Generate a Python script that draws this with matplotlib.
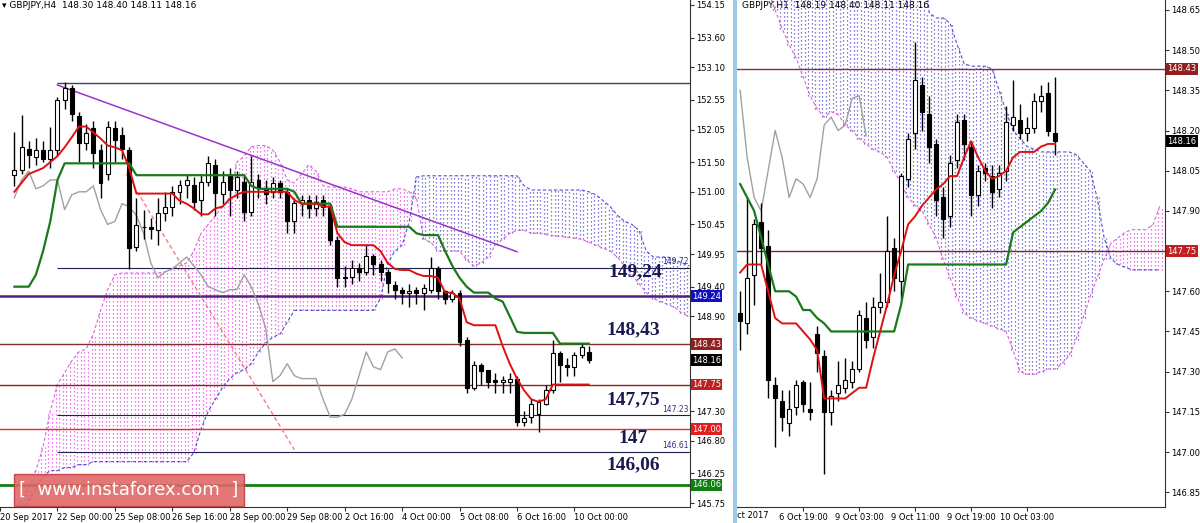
import matplotlib
matplotlib.use("Agg")
import matplotlib.pyplot as plt
from matplotlib.patches import Rectangle
import numpy as np

plt.rcParams['font.family'] = ['DejaVu Sans']

# ---------------- LEFT PANEL (H4) ----------------
h4_open = [151.28,151.37,151.73,151.59,151.70,151.55,151.70,152.55,152.75,152.27,151.82,152.07,151.70,151.30,152.07,151.96,151.70,150.07,150.41,150.40,
           150.36,150.64,150.75,151.00,151.11,151.11,150.86,151.17,151.45,150.97,151.28,151.03,151.17,150.66,151.20,151.06,151.00,151.14,151.00,150.50,
           150.81,150.86,150.72,150.86,150.75,150.19,149.54,149.57,149.71,149.65,149.91,149.79,149.65,149.43,149.34,149.29,149.34,149.29,149.34,149.71,
           149.32,149.20,149.29,148.50,147.69,148.08,147.99,147.83,147.80,147.80,147.85,147.12,147.21,147.26,147.43,147.66,148.28,148.08,148.05,148.25,148.30]
h4_close = [151.37,151.76,151.62,151.70,151.55,151.70,152.55,152.75,152.32,151.82,151.99,151.65,151.14,152.10,151.87,151.73,150.05,150.44,150.40,150.38,
            150.64,150.75,151.00,151.11,151.20,150.83,151.17,151.48,150.98,151.17,151.03,151.25,150.66,151.17,151.06,150.97,151.14,151.00,150.50,150.81,
            150.86,150.72,150.83,150.75,150.19,149.54,149.57,149.71,149.65,149.91,149.79,149.65,149.46,149.34,149.29,149.32,149.29,149.37,149.71,149.32,
            149.20,149.29,148.47,147.69,148.08,147.97,147.80,147.80,147.83,147.85,147.12,147.18,147.43,147.46,147.66,148.28,148.08,148.05,148.25,148.39,148.16]
h4_high = [152.0,152.3,151.85,151.9,151.85,152.1,152.6,152.85,152.8,152.35,152.15,152.2,151.8,152.2,152.2,152.1,151.75,150.9,150.7,150.55,
           150.9,151.0,151.1,151.2,151.3,151.25,151.3,151.6,151.55,151.35,151.4,151.35,151.3,151.6,151.3,151.2,151.25,151.2,151.05,150.9,
           150.95,150.95,150.95,150.95,150.8,150.25,149.75,149.85,149.8,150.1,149.95,149.85,149.7,149.5,149.4,149.45,149.4,149.45,149.9,149.75,
           149.35,149.35,149.35,148.55,148.15,148.12,148.0,147.95,147.9,147.95,147.9,147.3,147.5,147.5,147.75,148.5,148.32,148.2,148.3,148.45,148.40]
h4_low = [151.1,151.3,151.4,151.45,151.5,151.4,151.6,152.4,152.2,151.5,151.7,151.4,150.9,151.2,151.5,151.55,149.7,150.0,150.2,150.2,
          150.1,150.5,150.6,150.8,150.9,150.7,150.6,151.1,150.6,150.8,150.6,150.9,150.5,150.6,150.9,150.8,150.9,150.9,150.3,150.3,
          150.6,150.55,150.6,150.6,150.1,149.4,149.4,149.45,149.5,149.6,149.6,149.5,149.3,149.2,149.1,149.05,149.1,149.0,149.3,149.2,
          149.1,149.15,148.4,147.6,147.65,147.75,147.7,147.6,147.6,147.6,147.05,147.05,147.1,146.95,147.4,147.6,147.8,147.9,147.9,148.2,148.11]
h4_tenkan = [151.0,151.15,151.3,151.35,151.4,151.5,151.6,151.75,151.92,152.1,152.1,152.0,151.9,151.78,151.75,151.7,151.4,150.97,150.97,150.97,
             150.97,150.97,150.97,150.85,150.8,150.72,150.62,150.62,150.72,150.75,150.88,150.95,151.0,151.0,151.0,151.0,151.0,151.0,151.0,150.86,
             150.8,150.8,150.8,150.75,150.75,150.3,150.15,150.1,150.1,150.1,150.1,150.0,149.8,149.7,149.68,149.68,149.62,149.58,149.58,149.55,
             149.3,149.3,149.2,148.8,148.75,148.75,148.75,148.75,148.4,148.1,147.85,147.65,147.5,147.46,147.5,147.75,147.75,147.75,147.75,147.75,147.75]
h4_kijun = [149.4,149.4,149.4,149.6,150.0,150.5,151.2,151.48,151.48,151.48,151.48,151.48,151.48,151.48,151.48,151.48,151.48,151.28,151.28,151.28,
            151.28,151.28,151.28,151.28,151.28,151.28,151.28,151.28,151.28,151.28,151.28,151.28,151.28,151.1,151.05,151.05,151.05,151.05,151.05,151.0,
            150.8,150.8,150.8,150.8,150.8,150.41,150.41,150.41,150.41,150.41,150.41,150.41,150.41,150.41,150.41,150.41,150.3,150.27,150.27,150.27,
            150.0,149.75,149.55,149.4,149.3,149.3,149.3,149.2,149.15,148.9,148.64,148.62,148.62,148.62,148.62,148.62,148.44,148.44,148.44,148.44,148.44]
h4_chikou = [150.9,151.2,151.35,151.05,151.1,151.2,151.2,150.7,150.95,151.0,151.0,151.1,150.7,150.45,150.5,150.8,150.75,150.6,150.3,149.8,
             149.55,149.65,149.7,149.8,149.9,149.75,149.6,149.4,149.35,149.3,149.35,149.35,149.6,149.4,149.1,148.7,147.8,147.9,148.1,147.9,
             147.85,147.85,147.85,147.5,147.2,147.2,147.25,147.5,147.9,148.3,148.05,148.0,148.3,148.35,148.2]
h4_spanA = [145.6,145.8,146.0,146.3,146.7,147.3,147.75,147.95,148.15,148.3,148.35,148.6,149.0,149.35,149.6,149.63,149.63,149.63,149.63,149.63,
            149.63,149.65,149.7,149.75,149.8,150.0,150.3,150.45,150.6,150.75,150.9,151.5,151.6,151.76,151.78,151.78,151.7,151.5,151.2,151.15,
            151.3,151.45,151.35,151.1,151.08,151.08,151.08,151.05,151.0,151.0,151.0,151.0,151.0,151.05,151.05,151.0,150.9,150.2,150.15,150.0,
            150.0,150.0,150.0,149.85,149.75,149.8,149.9,150.1,150.2,150.3,150.35,150.35,150.3,150.3,150.28,150.26,150.25,150.23,150.22,150.2,
            150.15,150.1,150.05,150.0,149.9,149.75,149.6,149.45,149.3,149.2,149.15,149.1,149.05,148.95,148.9]
h4_spanB = [145.5,145.6,145.8,146.0,146.2,146.3,146.3,146.35,146.35,146.4,146.4,146.45,146.45,146.45,146.45,146.45,146.45,146.45,146.45,146.45,
            146.45,146.45,146.45,146.45,146.45,146.6,147.0,147.3,147.5,147.7,147.85,147.95,148.0,148.1,148.3,148.45,148.55,148.6,148.8,149.0,
            149.0,149.0,149.0,149.0,149.0,149.0,149.0,149.0,149.0,149.0,149.0,149.2,149.8,150.0,150.1,150.5,151.25,151.27,151.27,151.27,
            151.27,151.27,151.27,151.27,151.27,151.27,151.27,151.27,151.27,151.27,151.27,151.1,151.03,151.03,151.03,151.03,151.03,151.03,151.03,151.03,
            151.0,150.95,150.85,150.75,150.6,150.5,150.45,150.35,150.0,149.9,149.9,149.9,149.85,149.8,149.75]
h4_ticks = [-2,6,14,22,30,38,46,54,62,70,78]
h4_ticklabels = ['20 Sep 2017','22 Sep 00:00','25 Sep 08:00','26 Sep 16:00','28 Sep 00:00','29 Sep 08:00',
                 '2 Oct 16:00','4 Oct 00:00','5 Oct 08:00','6 Oct 16:00','10 Oct 00:00']
h4_yticks = [154.15,153.60,153.10,152.55,152.05,151.50,151.00,150.45,149.95,149.40,148.90,147.30,146.80,146.25,145.75]
trend_x = [6, 70]
trend_y = [152.80, 149.99]
dash_x = [15.6, 39]
dash_y = [151.3, 146.65]

# ---------------- RIGHT PANEL (H1) ----------------
h1_open = [147.52,147.48,147.66,147.86,147.77,147.25,147.19,147.11,147.17,147.26,147.16,147.44,147.36,147.15,147.22,147.24,147.26,147.31,147.50,147.43,
           147.54,147.56,147.76,147.64,148.02,148.19,148.37,148.26,148.15,147.95,147.88,148.09,148.24,148.14,147.96,148.06,148.03,147.98,148.05,148.22,
           148.24,148.19,148.21,148.31,148.34,148.19]
h1_close = [147.49,147.65,147.85,147.76,147.27,147.20,147.13,147.16,147.25,147.18,147.15,147.37,147.15,147.21,147.25,147.27,147.31,147.51,147.42,147.54,
            147.56,147.75,147.65,148.03,148.17,148.39,148.27,148.14,147.94,147.87,148.08,148.23,148.15,147.96,148.05,148.04,147.97,148.04,148.23,148.25,
            148.19,148.21,148.31,148.33,148.20,148.16]
h1_high = [147.60,147.95,147.87,147.93,147.83,147.28,147.23,147.23,147.27,147.27,147.26,147.47,147.38,147.23,147.34,147.35,147.34,147.53,147.56,147.58,
           147.67,147.88,147.80,148.04,148.19,148.53,148.40,148.33,148.17,147.99,148.11,148.26,148.26,148.16,148.07,148.08,148.07,148.07,148.29,148.39,
           148.30,148.25,148.34,148.37,148.38,148.40]
h1_low = [147.38,147.44,147.55,147.70,147.20,147.02,147.08,147.06,147.14,147.15,147.12,147.30,146.92,147.10,147.19,147.22,147.24,147.30,147.39,147.39,
          147.52,147.54,147.60,147.57,147.99,148.13,148.20,148.08,147.88,147.80,147.84,148.06,148.09,147.88,147.92,148.01,147.91,147.95,148.01,148.20,
          148.17,148.16,148.19,148.27,148.18,148.11]
h1_tenkan = [147.67,147.7,147.7,147.7,147.6,147.5,147.48,147.48,147.48,147.45,147.42,147.38,147.2,147.2,147.2,147.2,147.22,147.24,147.24,147.35,
             147.45,147.55,147.66,147.75,147.85,147.88,147.92,147.95,147.98,148.0,148.03,148.03,148.1,148.16,148.1,148.05,148.02,148.03,148.05,148.1,
             148.12,148.12,148.12,148.14,148.15,148.15]
h1_kijun = [148.0,147.95,147.9,147.8,147.7,147.6,147.6,147.6,147.58,147.53,147.53,147.5,147.48,147.45,147.45,147.45,147.45,147.45,147.45,147.45,
            147.45,147.45,147.45,147.55,147.7,147.7,147.7,147.7,147.7,147.7,147.7,147.7,147.7,147.7,147.7,147.7,147.7,147.7,147.7,147.82,
            147.84,147.86,147.88,147.9,147.93,147.98]
h1_chikou = [148.35,148.1,147.95,147.9,148.05,148.2,148.1,147.95,148.02,148.0,147.95,148.02,148.22,148.25,148.2,148.22,148.32,148.33,148.18]
h1_spanA = [149.2,149.0,148.9,148.8,148.72,148.65,148.58,148.52,148.47,148.4,148.33,148.28,148.25,148.27,148.26,148.22,148.2,148.17,148.15,148.13,
            148.12,148.1,148.05,148.0,147.95,147.92,147.9,147.85,147.8,147.72,147.65,147.58,147.52,147.5,147.49,147.48,147.47,147.46,147.45,147.38,
            147.3,147.29,147.29,147.3,147.31,147.31,147.33,147.36,147.42,147.5,147.58,147.65,147.72,147.78,147.8,147.82,147.83,147.83,147.83,147.85,147.92]
h1_spanB = [149.3,149.3,149.3,149.3,149.3,149.3,149.3,149.3,149.3,149.3,149.3,149.3,149.3,149.3,149.3,149.3,149.3,149.3,149.3,149.3,
            149.3,149.3,149.3,149.3,149.3,149.3,148.9,148.64,148.62,148.62,148.6,148.52,148.45,148.44,148.44,148.44,148.43,148.35,148.27,148.2,
            148.17,148.14,148.13,148.12,148.12,148.12,148.12,148.12,148.11,148.08,148.05,147.95,147.8,147.72,147.7,147.69,147.68,147.68,147.68,147.68,147.68]
h1_ticks = [9,17,25,33,41]
h1_ticklabels = ['6 Oct 19:00','9 Oct 03:00','9 Oct 11:00','9 Oct 19:00','10 Oct 03:00']
h1_yticks = [148.65,148.50,148.35,148.20,148.05,147.90,147.60,147.45,147.30,147.15,147.00,146.85]

# ---------------- drawing ----------------
W, H = 1200, 523
fig = plt.figure(figsize=(12, 5.23), dpi=100)
fig.patch.set_facecolor('white')

def candles(ax, o, h, l, c, w):
    for i in range(len(o)):
        ax.vlines(i, l[i], h[i], color='black', lw=1, zorder=4)
        lo, hi = min(o[i], c[i]), max(o[i], c[i])
        face = 'white' if c[i] >= o[i] else 'black'
        ax.add_patch(Rectangle((i - w / 2, lo), w, max(hi - lo, 0.004), facecolor=face,
                               edgecolor='black', lw=0.8, zorder=5))

def cloud(ax, a, b, subs):
    a = np.array(a); b = np.array(b)
    for i in range(len(a)):
        col = '#e050e0' if a[i] >= b[i] else '#5a50c8'
        lo, hi = min(a[i], b[i]), max(a[i], b[i])
        for s in subs:
            ax.vlines(i + s, lo, hi, color=col, lw=0.9, linestyles=(0, (1, 2.2)), zorder=1)
    x = np.arange(len(a))
    ax.plot(x, a, color='#e060e0', lw=0.8, ls=(0, (3, 2)), zorder=2)
    ax.plot(x, b, color='#5050d0', lw=0.8, ls=(0, (3, 2)), zorder=2)

def style(ax):
    for s in ['top', 'left']:
        ax.spines[s].set_visible(False)
    ax.spines['right'].set_color('#333333')
    ax.spines['bottom'].set_color('#333333')
    ax.yaxis.tick_right()
    ax.tick_params(axis='both', labelsize=6, length=3, color='#333333', pad=1.5)
    ax.set_facecolor('none')

def px(x):
    return x / W

def py(y):
    return 1 - y / H

# Left axes
axL = fig.add_axes([0, 16 / H, 690 / W, 507 / H])
style(axL)
axL.set_xlim(-0.55, 94.1)
axL.set_ylim(145.685, 154.234)
cloud(axL, h4_spanA, h4_spanB, [-0.25, 0.25])
axL.plot(range(len(h4_chikou)), h4_chikou, color='#a0a0a0', lw=1, zorder=3)
axL.plot(range(len(h4_kijun)), h4_kijun, color='#1a7a1a', lw=1.6, zorder=6)
axL.plot(range(len(h4_tenkan)), h4_tenkan, color='#e01010', lw=1.4, zorder=6)
candles(axL, h4_open, h4_high, h4_low, h4_close, 0.55)
axL.plot(trend_x, trend_y, color='#9933cc', lw=1.1, zorder=3)
axL.plot(dash_x, dash_y, color='#f08080', lw=1, ls=(0, (3, 2)), zorder=3)
axL.hlines(152.83, 6, 100, color='#404060', lw=1)
axL.hlines([149.72, 147.23, 146.61], 6, 100, color='#202050', lw=0.8)
axL.axhline(149.24, color='#502080', lw=1.8)
axL.axhline(148.43, color='#803030', lw=1)
axL.axhline(147.75, color='#902020', lw=1)
axL.axhline(147.00, color='#e03030', lw=1)
axL.axhline(146.06, color='#108010', lw=2)
axL.set_yticks(h4_yticks)
axL.set_yticklabels(['%.2f' % v for v in h4_yticks])
axL.set_xticks(h4_ticks)
axL.set_xticklabels(h4_ticklabels, ha='left')
for lab, v in [('149.72', 149.72), ('147.23', 147.23), ('146.61', 146.61)]:
    axL.text(93.9, v + 0.03, lab, fontsize=5.5, color='#303080', ha='right', va='bottom')
for lab, xx, v in [('149,24', 86.5, 149.24 + 0.42), ('148,43', 86.2, 148.43 + 0.25), ('147,75', 86.2, 147.75 - 0.25),
                   ('147', 86.2, 147.0 - 0.16), ('146,06', 86.2, 146.06 + 0.33)]:
    axL.text(xx, v, lab, fontsize=14, fontweight='bold', color='#1a1a50', ha='center', va='center',
             family='Liberation Serif', zorder=9)
for lab, v, col in [('149.24', 149.24, '#1010c0'), ('148.43', 148.43, '#902020'), ('148.16', 148.16, 'black'),
                    ('147.75', 147.75, '#c02020'), ('147.00', 147.00, '#e02020'), ('146.06', 146.06, '#108010')]:
    axL.text(1.003, (v - 145.685) / (154.234 - 145.685), lab, transform=axL.transAxes, fontsize=6,
             color='white', ha='left', va='center', zorder=10,
             bbox=dict(boxstyle='square,pad=0.15', fc=col, ec='none'))
fig.text(px(2), py(6), '\u25be GBPJPY,H4  148.30 148.40 148.11 148.16', fontsize=6.5, va='center')

# Right axes
axR = fig.add_axes([737 / W, 16 / H, 428 / W, 507 / H])
style(axR)
axR.set_xlim(-0.45, 60.7)
axR.set_ylim(146.795, 148.687)
cloud(axR, h1_spanA, h1_spanB, [-0.25, 0.25])
axR.plot(range(len(h1_chikou)), h1_chikou, color='#a0a0a0', lw=1, zorder=3)
axR.plot(range(len(h1_kijun)), h1_kijun, color='#1a7a1a', lw=1.6, zorder=6)
axR.plot(range(len(h1_tenkan)), h1_tenkan, color='#e01010', lw=1.4, zorder=6)
candles(axR, h1_open, h1_high, h1_low, h1_close, 0.6)
axR.axhline(148.43, color='#803040', lw=1)
axR.axhline(147.75, color='#802030', lw=1)
axR.set_yticks(h1_yticks)
axR.set_yticklabels(['%.2f' % v for v in h1_yticks])
axR.set_xticks(h1_ticks)
axR.set_xticklabels(h1_ticklabels, ha='center')
for lab, v, col in [('148.43', 148.43, '#902020'), ('148.16', 148.16, 'black'), ('147.75', 147.75, '#c02020')]:
    axR.text(1.006, (v - 146.795) / (148.687 - 146.795), lab, transform=axR.transAxes, fontsize=6,
             color='white', ha='left', va='center', zorder=10,
             bbox=dict(boxstyle='square,pad=0.15', fc=col, ec='none'))
fig.text(px(742), py(6), 'GBPJPY,H1  148.19 148.40 148.11 148.16', fontsize=6.5, va='center')
fig.text(px(737), py(515), 'ct 2017', fontsize=6, va='center')

fig.patches.append(Rectangle((px(733), 0), px(4), 1, transform=fig.transFigure,
                             facecolor='#9ec8e8', edgecolor='none', zorder=0))
fig.patches.append(Rectangle((px(14), py(506)), px(230), 32 / H, transform=fig.transFigure,
                             facecolor='#e06868', edgecolor='#c04040', alpha=0.9, zorder=20))
fig.text(px(129), py(490), '[  www.instaforex.com  ]', color='white', fontsize=13,
         ha='center', va='center', zorder=21)

fig.savefig('out.png', dpi=100)
